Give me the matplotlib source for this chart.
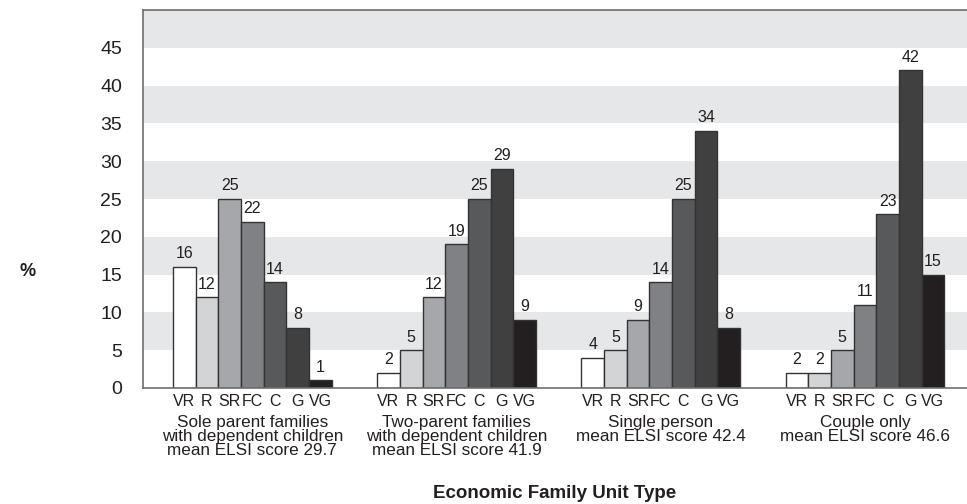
import matplotlib
matplotlib.use("Agg")
import matplotlib.pyplot as plt

# Ratings of economic living standard, from very rich to very good
ratings = ["VR", "R", "SR", "FC", "C", "G", "VG"]
group_names = [
    "Sole parent families\nwith dependent children\nmean ELSI score 29.7",
    "Two-parent families\nwith dependent children\nmean ELSI score 41.9",
    "Single person\nmean ELSI score 42.4",
    "Couple only\nmean ELSI score 46.6",
]
sole_parent = [16, 12, 25, 22, 14, 8, 1]
two_parent = [2, 5, 12, 19, 25, 29, 9]
single_person = [4, 5, 9, 14, 25, 34, 8]
couple_only = [2, 2, 5, 11, 23, 42, 15]
series = [sole_parent, two_parent, single_person, couple_only]

y_ticks = [0, 5, 10, 15, 20, 25, 30, 35, 40, 45]

bar_colors = ["#ffffff", "#d3d4d6", "#a6a7aa", "#808184", "#58595b", "#404041", "#231f20"]
edge_color = "#333333"
band_color = "#e6e7e8"
spine_color = "#6d6e70"
text_color = "#231f20"
font = ["Liberation Sans", "DejaVu Sans"]

fig = plt.figure(figsize=(9.67, 5.04), dpi=100)
ax = fig.add_axes([143 / 967, 1 - 388 / 504, 1 - 143 / 967, (388 - 10) / 504])

# Alternating horizontal bands
for lo in range(5, 50, 10):
    ax.axhspan(lo, lo + 5, color=band_color, zorder=0, lw=0)

group_step = 9
width = 1.0
tick_pos, tick_lab = [], []
for g, values in enumerate(series):
    start = g * group_step
    for i, v in enumerate(values):
        x = start + i + 0.5
        ax.bar(x, v, width=width, color=bar_colors[i], edgecolor=edge_color,
               linewidth=1.0, zorder=2)
        ax.annotate(str(v), (x, v), xytext=(0, 4), textcoords="offset points",
                    ha="center", va="bottom", fontsize=11.5, family=font,
                    color=text_color, zorder=3)
        tick_pos.append(x)
        tick_lab.append(ratings[i])
    center = start + len(values) / 2
    ax.text(center, -0.072, group_names[g], transform=ax.get_xaxis_transform(),
            ha="center", va="top", fontsize=12.3, family=font, color=text_color,
            linespacing=0.92)

ax.set_xlim(-1.32, 35.0)
ax.set_ylim(0, 50)
ax.set_yticks(y_ticks)
ax.set_yticklabels([str(t) for t in y_ticks], fontsize=14, family=font, color=text_color)
ax.set_xticks(tick_pos)
ax.set_xticklabels(tick_lab, fontsize=11.5, family=font, color=text_color)
ax.tick_params(axis="both", length=0)
ax.tick_params(axis="y", pad=15)
ax.tick_params(axis="x", pad=4)

for side in ["top", "left", "bottom"]:
    ax.spines[side].set_color(spine_color)
    ax.spines[side].set_linewidth(1.2)
ax.spines["right"].set_visible(False)

fig.text(28 / 967, 1 - 272 / 504, "%", ha="center", va="center", fontsize=13,
         fontweight="bold", family=font, color=text_color)
fig.text(555 / 967, 1 - 494 / 504, "Economic Family Unit Type", ha="center",
         va="center", fontsize=13.5, fontweight="bold", family=font, color=text_color)

fig.savefig("out.png", dpi=100)
